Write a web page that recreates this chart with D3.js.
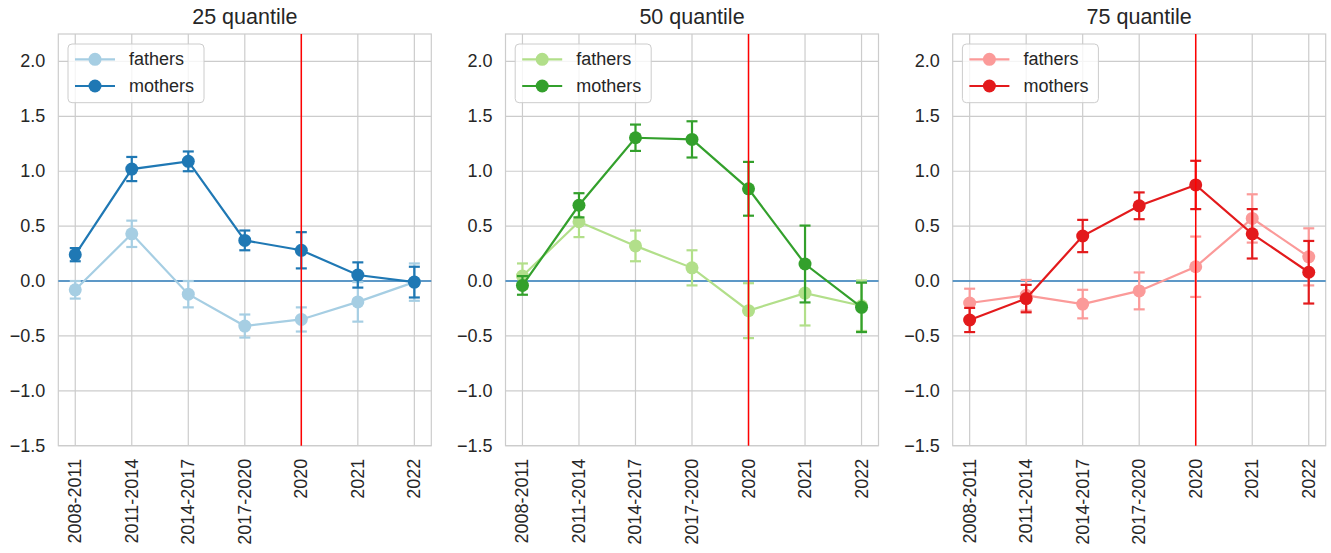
<!DOCTYPE html>
<html>
<head>
<meta charset="utf-8">
<script src="https://cdn.jsdelivr.net/npm/d3@7"></script>
<style>
  body { margin: 0; background: #fff; }
  text { font-family: "Liberation Sans", Arial, sans-serif; fill: #262626; }
</style>
</head>
<body>
<div class="chart"></div>
<script>
const categories = ['2008-2011', '2011-2014', '2014-2017', '2017-2020', '2020', '2021', '2022'];
const titles = ['25 quantile', '50 quantile', '75 quantile'];
const yTicks = [-1.5, -1.0, -0.5, 0.0, 0.5, 1.0, 1.5, 2.0];

// point estimates and half-widths of the error bars
const q25Fathers = [-0.08, 0.43, -0.12, -0.41, -0.35, -0.19, -0.01];
const q25FathersErr = [0.08, 0.12, 0.12, 0.105, 0.11, 0.18, 0.17];
const q25Mothers = [0.24, 1.02, 1.09, 0.37, 0.28, 0.055, -0.01];
const q25MothersErr = [0.06, 0.11, 0.09, 0.09, 0.165, 0.115, 0.14];

const q50Fathers = [0.045, 0.54, 0.32, 0.12, -0.27, -0.11, -0.225];
const q50FathersErr = [0.115, 0.14, 0.14, 0.16, 0.25, 0.295, 0.23];
const q50Mothers = [-0.04, 0.69, 1.305, 1.29, 0.84, 0.155, -0.24];
const q50MothersErr = [0.085, 0.11, 0.12, 0.165, 0.245, 0.35, 0.225];

const q75Fathers = [-0.2, -0.13, -0.21, -0.09, 0.13, 0.57, 0.22];
const q75FathersErr = [0.13, 0.14, 0.13, 0.168, 0.275, 0.22, 0.26];
const q75Mothers = [-0.355, -0.16, 0.41, 0.685, 0.875, 0.43, 0.08];
const q75MothersErr = [0.11, 0.125, 0.147, 0.122, 0.22, 0.225, 0.285];

const panels = [
  {title: titles[0], fathers: q25Fathers, fErr: q25FathersErr, mothers: q25Mothers, mErr: q25MothersErr, light: '#a6cee3', dark: '#1f78b4'},
  {title: titles[1], fathers: q50Fathers, fErr: q50FathersErr, mothers: q50Mothers, mErr: q50MothersErr, light: '#b2df8a', dark: '#33a02c'},
  {title: titles[2], fathers: q75Fathers, fErr: q75FathersErr, mothers: q75Mothers, mErr: q75MothersErr, light: '#fb9a99', dark: '#e31a1c'}
];

const width = 1331, height = 553;
const plotTop = 34, plotBottom = 445.7, panelW = 373;

const svg = d3.select('.chart').append('svg')
  .attr('width', width).attr('height', height);

const y = d3.scaleLinear().domain([-1.5, 2.25]).range([plotBottom, plotTop]);
const fmt = d => (d < 0 ? '\u2212' : '') + Math.abs(d).toFixed(1);

panels.forEach(function(p, i) {
  const left = 58.3 + i * 447.2;
  const x = d3.scaleLinear().domain([-0.3, 6.3]).range([left, left + panelW]);
  const g = svg.append('g');

  // grid
  g.selectAll('.hgrid').data(yTicks).enter().append('line')
    .attr('x1', left).attr('x2', left + panelW)
    .attr('y1', d => y(d)).attr('y2', d => y(d))
    .attr('stroke', '#cccccc').attr('stroke-width', 1.2);
  g.selectAll('.vgrid').data(categories).enter().append('line')
    .attr('x1', (d, j) => x(j)).attr('x2', (d, j) => x(j))
    .attr('y1', plotTop).attr('y2', plotBottom)
    .attr('stroke', '#cccccc').attr('stroke-width', 1.2);

  // frame
  g.append('rect')
    .attr('x', left).attr('y', plotTop).attr('width', panelW).attr('height', plotBottom - plotTop)
    .attr('fill', 'none').attr('stroke', '#cccccc').attr('stroke-width', 1.2);

  // y tick labels
  g.selectAll('.ylab').data(yTicks).enter().append('text')
    .attr('x', left - 13).attr('y', d => y(d))
    .attr('text-anchor', 'end').attr('dominant-baseline', 'central')
    .attr('font-size', '18px')
    .text(fmt);

  // x tick labels
  g.selectAll('.xlab').data(categories).enter().append('text')
    .attr('transform', (d, j) => 'translate(' + x(j) + ',' + (plotBottom + 13) + ') rotate(-90)')
    .attr('text-anchor', 'end').attr('dominant-baseline', 'central')
    .attr('font-size', '18px')
    .text(d => d);

  // title
  g.append('text')
    .attr('x', left + panelW / 2).attr('y', 24)
    .attr('text-anchor', 'middle').attr('font-size', '21.5px')
    .text(p.title);

  // zero line
  g.append('line')
    .attr('x1', left).attr('x2', left + panelW)
    .attr('y1', y(0)).attr('y2', y(0))
    .attr('stroke', '#2f7ebc').attr('stroke-width', 1.5);

  const series = [
    {vals: p.fathers, err: p.fErr, color: p.light},
    {vals: p.mothers, err: p.mErr, color: p.dark}
  ];

  series.forEach(function(s) {
    const line = d3.line().x((d, j) => x(j)).y(d => y(d));
    g.append('path').datum(s.vals)
      .attr('d', line).attr('fill', 'none')
      .attr('stroke', s.color).attr('stroke-width', 2.2);

    const eb = g.append('g').selectAll('g').data(s.vals).enter().append('g');
    eb.append('line')
      .attr('x1', (d, j) => x(j)).attr('x2', (d, j) => x(j))
      .attr('y1', (d, j) => y(d - s.err[j])).attr('y2', (d, j) => y(d + s.err[j]))
      .attr('stroke', s.color).attr('stroke-width', 2.2);
    [-1, 1].forEach(function(sign) {
      eb.append('line')
        .attr('x1', (d, j) => x(j) - 5.5).attr('x2', (d, j) => x(j) + 5.5)
        .attr('y1', (d, j) => y(d + sign * s.err[j])).attr('y2', (d, j) => y(d + sign * s.err[j]))
        .attr('stroke', s.color).attr('stroke-width', 2.2);
    });

    g.selectAll(null).data(s.vals).enter().append('circle')
      .attr('cx', (d, j) => x(j)).attr('cy', d => y(d))
      .attr('r', 6.5).attr('fill', s.color);
  });

  // red line at 2020
  g.append('line')
    .attr('x1', x(4)).attr('x2', x(4))
    .attr('y1', plotTop).attr('y2', plotBottom)
    .attr('stroke', '#ff0000').attr('stroke-width', 1.5);

  // legend
  const lg = g.append('g').attr('transform', 'translate(' + (left + 9.7) + ',44)');
  lg.append('rect')
    .attr('width', 136).attr('height', 58.7).attr('rx', 4)
    .attr('fill', 'rgba(255,255,255,0.8)').attr('stroke', '#cccccc').attr('stroke-width', 1);
  const items = [{name: 'fathers', color: p.light}, {name: 'mothers', color: p.dark}];
  const row = lg.selectAll('.item').data(items).enter().append('g')
    .attr('transform', (d, k) => 'translate(0,' + (15.3 + k * 26.7) + ')');
  row.append('line')
    .attr('x1', 7).attr('x2', 47)
    .attr('stroke', d => d.color).attr('stroke-width', 2.2);
  row.append('circle')
    .attr('cx', 27).attr('r', 6.5).attr('fill', d => d.color);
  row.append('text')
    .attr('x', 61).attr('dominant-baseline', 'central')
    .attr('font-size', '18px')
    .text(d => d.name);
});
</script>
</body>
</html>
